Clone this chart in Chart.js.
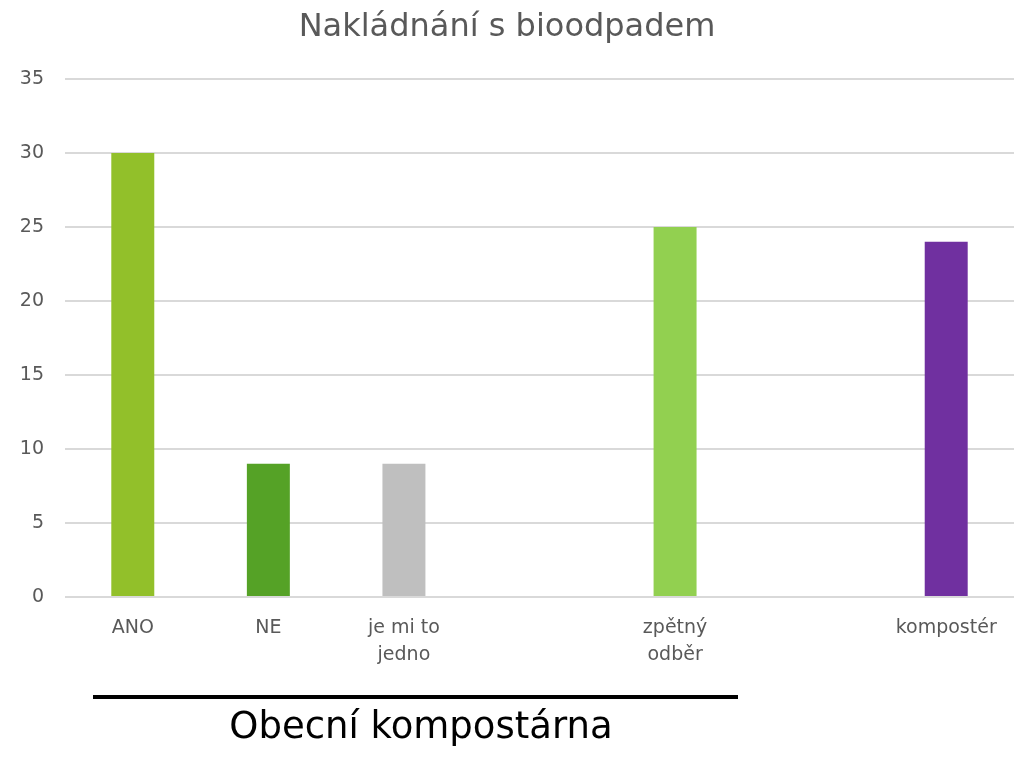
<!DOCTYPE html>
<html>
<head>
<meta charset="utf-8">
<script src="https://cdn.jsdelivr.net/npm/chart.js@4/dist/chart.umd.min.js"></script>
<style>
  body { margin: 0; background: #fff; }
  #wrap { position: relative; width: 1018px; height: 759px; }
  #line { position: absolute; left: 93px; top: 695px; width: 645px; height: 4px; background: #000; }
  #note { position: absolute; left: 0; width: 842px; text-align: center; top: 704px;
          font-family: "DejaVu Sans", sans-serif; font-size: 37px; color: #000; }
</style>
</head>
<body>
<div id="wrap">
  <canvas id="myChart" width="1018" height="759"></canvas>
  <div id="line"></div>
  <div id="note">Obecní kompostárna</div>
</div>
<script>
var Labels = ["ANO", "NE", ["je mi to", "jedno"], "", ["zpětný", "odběr"], "", "kompostér"];
var Values = [30, 9, 9, null, 25, null, 24];
var Colors = ["#92c02a", "#55a226", "#bfbfbf", "#ffffff", "#92d050", "#ffffff", "#7030a0"];
var YTicks = [0, 35, 5];

var FONT = "DejaVu Sans";

var ctx = document.getElementById("myChart");
var myChart = new Chart(ctx, {
  type: 'bar',
  data: {
    labels: Labels,
    datasets: [
      {
        data: Values,
        backgroundColor: Colors,
        borderWidth: 0,
        barPercentage: 0.317,
        categoryPercentage: 1
      }
    ]
  },
  options: {
    responsive: false,
    animation: false,
    layout: { padding: { left: 0, right: 4, top: 0, bottom: 0 } },
    plugins: {
      legend: { display: false },
      tooltip: { enabled: false },
      title: {
        display: true,
        text: "Nakládnání s bioodpadem",
        color: "#595959",
        font: { family: FONT, size: 32, weight: 'normal' },
        padding: { top: 8, bottom: 32.6 }
      }
    },
    scales: {
      x: {
        grid: { display: false },
        border: { display: false },
        ticks: {
          color: "#595959",
          font: { family: FONT, size: 19, lineHeight: 1.4 },
          maxRotation: 0,
          autoSkip: false,
          padding: 10
        },
        afterFit: function(axis) { axis.height = 162; }
      },
      y: {
        min: YTicks[0],
        max: YTicks[1],
        ticks: {
          stepSize: YTicks[2],
          color: "#595959",
          font: { family: FONT, size: 19 },
          padding: 21
        },
        grid: { color: "#d9d9d9", lineWidth: 2, drawTicks: false },
        border: { display: false },
        afterFit: function(axis) { axis.width = 65; }
      }
    }
  }
});
</script>
</body>
</html>
